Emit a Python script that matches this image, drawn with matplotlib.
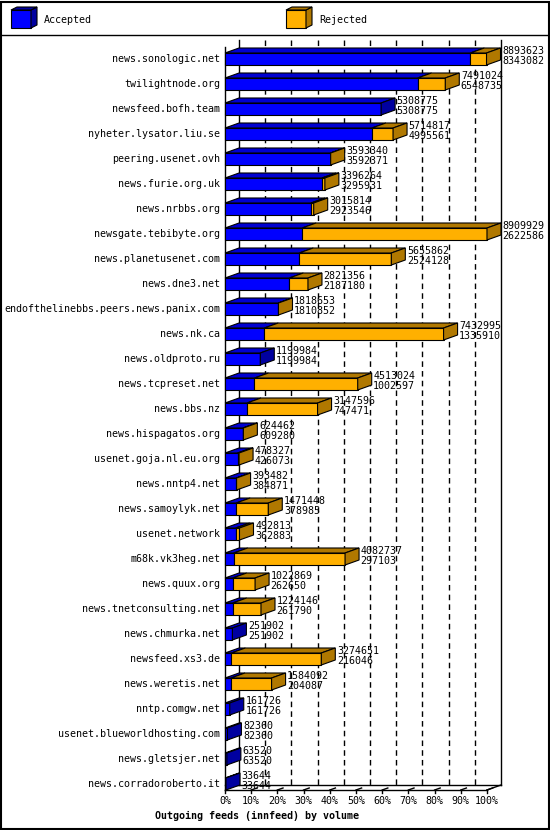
import matplotlib.pyplot as plt
from matplotlib.patches import Polygon, Rectangle

hosts = ["news.sonologic.net", "twilightnode.org", "newsfeed.bofh.team", "nyheter.lysator.liu.se",
         "peering.usenet.ovh", "news.furie.org.uk", "news.nrbbs.org", "newsgate.tebibyte.org",
         "news.planetusenet.com", "news.dne3.net", "endofthelinebbs.peers.news.panix.com", "news.nk.ca",
         "news.oldproto.ru", "news.tcpreset.net", "news.bbs.nz", "news.hispagatos.org",
         "usenet.goja.nl.eu.org", "news.nntp4.net", "news.samoylyk.net", "usenet.network",
         "m68k.vk3heg.net", "news.quux.org", "news.tnetconsulting.net", "news.chmurka.net",
         "newsfeed.xs3.de", "news.weretis.net", "nntp.comgw.net", "usenet.blueworldhosting.com",
         "news.gletsjer.net", "news.corradoroberto.it"]
offered = [8893623, 7491024, 5308775, 5714817, 3593340, 3396264, 3015814, 8909929, 5655862, 2821356,
           1818653, 7432995, 1199984, 4513024, 3147596, 624462, 478327, 393482, 1471448, 492813,
           4082737, 1022869, 1224146, 251902, 3274651, 1584092, 161726, 82360, 63520, 33644]
accepted = [8343082, 6548735, 5308775, 4995561, 3592371, 3295931, 2923546, 2622586, 2524128, 2187180,
            1810852, 1335910, 1199984, 1002597, 747471, 609280, 426073, 384871, 378985, 362883,
            297103, 262650, 261790, 251902, 216046, 204087, 161726, 82360, 63520, 33644]
ticks = [0, 10, 20, 30, 40, 50, 60, 70, 80, 90, 100]

W, H = 550, 830
FONT = "DejaVu Sans Mono"
BLUE, BLUE_TOP, BLUE_SIDE = "#0000ff", "#0000d0", "#0000a0"
ORANGE, ORANGE_SIDE = "#ffb000", "#b07800"

fig = plt.figure(figsize=(W / 100, H / 100), dpi=100)
# axes: x 0..100% maps to 225..487 px; row i centre at 59 + 25 i px
x0, x1 = 225, 487
ytop, ybot = 46.5, 796.5
ax = fig.add_axes([x0 / W, 1 - ybot / H, (x1 - x0) / W, (ybot - ytop) / H])
ax.set_xlim(0, 100)
ax.set_ylim(29.5, -0.5)
ax.axis("off")

dx = 14 / (x1 - x0) * 100   # depth offset in %
dy = -5 / 25                # depth offset in rows
hh = 0.24                   # half bar height
floor = 29 + hh
top = -0.76

# back plane grid
for t in ticks:
    ls = "-" if t in (0, 100) else (0, (4, 3))
    ax.plot([t + dx, t + dx], [top, floor + dy], color="black", lw=1, ls=ls, zorder=1, clip_on=False)
# floor
ax.plot([0, 100], [floor, floor], color="black", lw=1, clip_on=False, zorder=1)
ax.plot([0, 100 + dx], [floor + dy, floor + dy], color="black", lw=1, clip_on=False, zorder=1)
ax.plot([100, 100 + dx], [floor, floor + dy], color="black", lw=1, clip_on=False, zorder=1)
ax.plot([0, 0], [top + 0.3, floor], color="black", lw=1, clip_on=False, zorder=1)
for t in ticks:
    ax.plot([t, t], [floor, floor + 0.12], color="black", lw=1, clip_on=False)
    if t > 0:
        ax.plot([t, t + dx * 0.4], [floor, floor + dy * 0.4], color="black", lw=1, clip_on=False)
    ax.text(t, floor + 0.45, f"{t}%", ha="center", va="center", fontsize=7.2, family=FONT)


def box(x_start, x_end, y, front, topc, side, draw_side):
    ax.add_patch(Rectangle((x_start, y - hh), x_end - x_start, 2 * hh, fc=front, ec="black", lw=0.8,
                           zorder=3, clip_on=False))
    ax.add_patch(Polygon([(x_start, y - hh), (x_start + dx, y - hh + dy), (x_end + dx, y - hh + dy),
                          (x_end, y - hh)], fc=topc, ec="black", lw=0.8, zorder=3, clip_on=False))
    if draw_side:
        ax.add_patch(Polygon([(x_end, y - hh), (x_end + dx, y - hh + dy), (x_end + dx, y + hh + dy),
                              (x_end, y + hh)], fc=side, ec="black", lw=0.8, zorder=3, clip_on=False))


scale = max(offered)
for i, (h, o, a) in enumerate(zip(hosts, offered, accepted)):
    pa = a / scale * 100
    po = o / scale * 100
    box(0, pa, i, BLUE, BLUE_TOP, BLUE_SIDE, o == a)
    if o > a:
        box(pa, po, i, ORANGE, ORANGE_SIDE, ORANGE_SIDE, True)
    ax.text(-1.9, i, h, ha="right", va="center", fontsize=7.2, family=FONT)
    ax.text(po + dx + 0.6, i - 0.12, f"{o}\n{a}", ha="left", va="center", fontsize=7.2,
            family=FONT, linespacing=0.95, zorder=4, clip_on=False)

# title
fig.text(155 / W, 1 - 816 / H, "Outgoing feeds (innfeed) by volume", fontsize=7.2, family=FONT,
         weight="bold", va="center")

# legend
fig.add_artist(plt.Line2D([0, 1], [1 - 35 / H, 1 - 35 / H], color="black", lw=1, transform=fig.transFigure))
for lx, col, side, lab in [(11, BLUE, BLUE_SIDE, "Accepted"), (286, ORANGE, ORANGE_SIDE, "Rejected")]:
    fx = lambda p: p / W
    fy = lambda p: 1 - p / H
    fig.add_artist(Polygon([(fx(lx), fy(10)), (fx(lx + 20), fy(10)), (fx(lx + 20), fy(28)), (fx(lx), fy(28))],
                           fc=col, ec="black", lw=0.8, transform=fig.transFigure))
    fig.add_artist(Polygon([(fx(lx + 20), fy(10)), (fx(lx + 26), fy(7)), (fx(lx + 26), fy(25)),
                            (fx(lx + 20), fy(28))], fc=side, ec="black", lw=0.8, transform=fig.transFigure))
    fig.add_artist(Polygon([(fx(lx), fy(10)), (fx(lx + 6), fy(7)), (fx(lx + 26), fy(7)), (fx(lx + 20), fy(10))],
                           fc=side, ec="black", lw=0.8, transform=fig.transFigure))
    fig.text(fx(lx + 33), fy(20), lab, fontsize=7.2, family=FONT, va="center")

# outer border
fig.add_artist(Rectangle((0.001, 0.001), 0.997, 0.997, fill=False, ec="black", lw=1.5,
                         transform=fig.transFigure))

fig.savefig("out.png", dpi=100)
